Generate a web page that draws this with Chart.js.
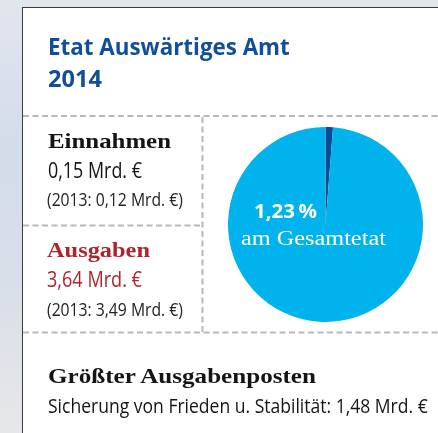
<!DOCTYPE html>
<html>
<head>
<meta charset="utf-8">
<script src="https://cdn.jsdelivr.net/npm/chart.js@4"></script>
<style>
  html, body { margin: 0; padding: 0; }
  body {
    width: 438px; height: 433px; overflow: hidden; position: relative;
    background: linear-gradient(to bottom, #e2e6ed 0%, #d3dcea 35%, #d9dfe8 65%, #e6e7ea 100%);
  }
  #panel {
    position: absolute; left: 22px; top: 7px; right: 0; bottom: 0;
    background: #fff;
    border-left: 1.5px solid #3c3c3c; border-top: 1.5px solid #3c3c3c;
  }
  #pie { position: absolute; left: 228px; top: 127px; width: 195px; height: 195px; }
  #overlay { position: absolute; left: 0; top: 0; }
</style>
</head>
<body>
<div id="panel"></div>
<div id="pie"><canvas id="graph"></canvas></div>
<svg id="overlay" width="438" height="433"></svg>
<script>
const titleLines = ['Etat Auswärtiges Amt', '2014']
const shareLabels = ['Auswärtiges Amt', 'Übriger Bundeshaushalt']
const shareValues = [1.23, 98.77]
const einnahmen = {year: 2014, value: '0,15', prev: '0,12'}
const ausgaben = {year: 2014, value: '3,64', prev: '3,49'}
const topPosten = {label: 'Sicherung von Frieden u. Stabilität', value: '1,48'}

const BLUE = '#114f9b'
const RED = '#b3222d'
const SANS = '"Open Sans", "Noto Sans", sans-serif'
const SERIF = '"Liberation Serif", "DejaVu Serif", serif'

const svg = document.querySelector('#overlay')
const NS = 'http://www.w3.org/2000/svg'

function line(x1, y1, x2, y2){
    const l = document.createElementNS(NS, 'line')
    l.setAttribute('x1', x1); l.setAttribute('y1', y1)
    l.setAttribute('x2', x2); l.setAttribute('y2', y2)
    l.setAttribute('stroke', '#b8b8b8')
    l.setAttribute('stroke-width', 2)
    l.setAttribute('stroke-dasharray', '6 3.5')
    svg.appendChild(l)
}

// text squeezed/stretched with a transform so its real box is the target width
function text(str, x, y, w, size, family, weight, color){
    const t = document.createElementNS(NS, 'text')
    t.textContent = str
    t.setAttribute('x', 0); t.setAttribute('y', 0)
    t.setAttribute('font-size', size)
    t.setAttribute('font-family', family)
    t.setAttribute('font-weight', weight)
    t.setAttribute('fill', color)
    svg.appendChild(t)
    const natural = t.getComputedTextLength()
    t.setAttribute('transform', `translate(${x},${y}) scale(${w / natural},1)`)
}

// dashed grid
line(23, 116, 438, 116)
line(23, 225.5, 202.5, 225.5)
line(202.5, 117, 202.5, 332)
line(23, 332.5, 438, 332.5)

// title
text(titleLines[0], 48, 55, 242, 24, SANS, 'bold', BLUE)
text(titleLines[1], 48, 87, 54, 24, SANS, 'bold', BLUE)

// left column
text('Einnahmen', 48, 148, 123, 22, SERIF, 'bold', '#141414')
text(`${einnahmen.value} Mrd. €`, 48, 178, 94, 21, SANS, 'normal', '#141414')
text(`(${einnahmen.year - 1}: ${einnahmen.prev} Mrd. €)`, 47, 206, 136, 18, SANS, 'normal', '#222')

text('Ausgaben', 47, 257, 103, 22, SERIF, 'bold', RED)
text(`${ausgaben.value} Mrd. €`, 47, 287, 95, 21, SANS, 'normal', RED)
text(`(${ausgaben.year - 1}: ${ausgaben.prev} Mrd. €)`, 47, 316, 136, 18, SANS, 'normal', '#222')

// bottom
text('Größter Ausgabenposten', 48, 383, 268, 22, SERIF, 'bold', '#141414')
text(`${topPosten.label}: ${topPosten.value} Mrd. €`, 48, 413, 380, 20, SANS, 'normal', '#141414')

//GRAPH
const ctx = document.querySelector('#graph').getContext('2d')

const data = {
    labels: shareLabels,
    datasets: [{
        data: shareValues,
        backgroundColor: ['#0b4b95', '#00b3ec'],
        borderWidth: 0
    }]
}

new Chart(ctx, {
    type: 'pie',
    data: data,
    options: {
        responsive: true,
        maintainAspectRatio: false,
        animation: false,
        layout: {padding: 0},
        plugins: {legend: {display: false}, tooltip: {enabled: false}}
    }
})

const pct = shareValues[0].toFixed(2).replace('.', ',') + '\u2009%'
text(pct, 254, 218, 63, 20, SANS, 'bold', '#fff')
text('am Gesamtetat', 241, 245, 145, 20, SERIF, 'normal', '#fff')
</script>
</body>
</html>
